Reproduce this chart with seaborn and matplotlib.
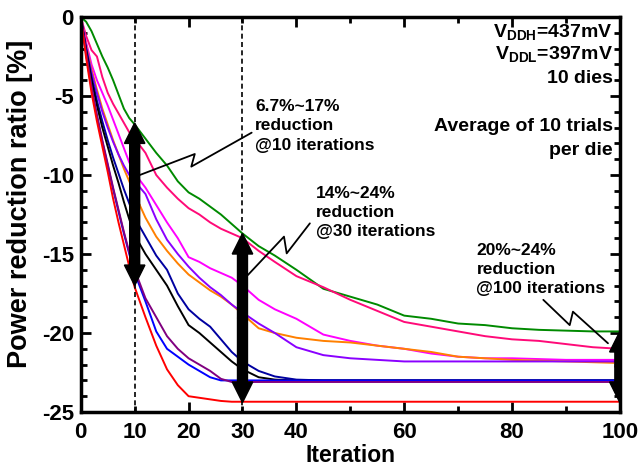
import numpy as np
import pandas as pd
import matplotlib
matplotlib.use("Agg")
import matplotlib.pyplot as plt
import seaborn as sns
from matplotlib.ticker import MultipleLocator, FixedLocator, FixedFormatter

iters = [0, 1, 2, 3, 4, 5, 6, 7, 8, 9, 10, 12, 14, 16, 18, 20, 22, 24, 26, 28, 30,
         33, 36, 40, 45, 50, 55, 60, 65, 70, 75, 80, 85, 90, 95, 100]

die_green = [0, -0.3, -0.9, -1.7, -2.5, -3.2, -4.0, -4.9, -5.8, -6.4, -6.8, -7.7, -8.6, -9.4, -10.4, -11.1,
             -11.5, -12.0, -12.5, -13.1, -13.7, -14.5, -15.1, -16.0, -17.2, -17.7, -18.2, -18.9, -19.1,
             -19.4, -19.5, -19.7, -19.8, -19.85, -19.9, -19.9]
die_pink = [0, -1.2, -2.1, -2.5, -3.8, -4.8, -5.5, -6.1, -6.7, -7.3, -7.7, -8.6, -10.0, -10.8, -11.5, -12.1,
            -12.5, -13.0, -13.4, -13.7, -14.0, -14.8, -15.5, -16.4, -17.1, -17.9, -18.6, -19.3, -19.6,
            -19.9, -20.2, -20.4, -20.5, -20.7, -20.9, -21.0]
die_magenta = [0, -1.6, -3.0, -4.0, -4.8, -5.6, -6.5, -7.4, -8.3, -9.2, -9.9, -10.8, -11.9, -13.0, -14.0,
               -15.2, -15.5, -15.9, -16.2, -16.5, -17.0, -17.9, -18.5, -19.1, -20.1, -20.5, -20.8, -21.0,
               -21.3, -21.5, -21.6, -21.6, -21.65, -21.7, -21.7, -21.7]
die_orange = [0, -1.8, -3.3, -4.6, -5.8, -6.8, -7.8, -8.7, -9.6, -10.4, -11.2, -12.7, -13.9, -14.8, -15.6,
              -16.3, -16.8, -17.3, -17.7, -18.2, -18.8, -19.7, -20.0, -20.3, -20.5, -20.6, -20.8, -21.0,
              -21.2, -21.5, -21.6, -21.7, -21.75, -21.8, -21.85, -21.9]
die_violet = [0, -1.9, -3.5, -4.8, -6.0, -7.0, -7.9, -8.7, -9.4, -10.0, -10.4, -11.2, -12.8, -14.1, -15.0,
              -15.8, -16.5, -17.1, -17.6, -18.2, -18.7, -19.4, -20.0, -20.9, -21.4, -21.6, -21.7, -21.8,
              -21.8, -21.8, -21.8, -21.8, -21.8, -21.8, -21.8, -21.8]
die_navy = [0, -2.0, -3.8, -5.3, -6.6, -7.8, -8.9, -9.9, -10.9, -11.8, -12.7, -13.9, -15.1, -16.0, -17.5,
            -18.5, -19.1, -19.6, -20.4, -21.2, -21.8, -22.4, -22.75, -22.95, -23.0, -23.0, -23.0, -23.0,
            -23.0, -23.0, -23.0, -23.0, -23.0, -23.0, -23.0, -23.0]
die_black = [0, -2.1, -4.0, -5.6, -7.0, -8.2, -9.4, -10.5, -11.7, -12.8, -13.8, -15.0, -16.0, -17.0, -18.3,
             -19.5, -20.0, -20.6, -21.2, -21.8, -22.3, -22.8, -22.95, -23.0, -23.0, -23.0, -23.0, -23.0,
             -23.0, -23.0, -23.0, -23.0, -23.0, -23.0, -23.0, -23.0]
die_blue = [0, -2.4, -4.5, -6.3, -7.9, -9.4, -10.9, -12.3, -13.7, -15.0, -16.2, -18.0, -19.9, -21.0, -21.5,
            -22.0, -22.4, -22.8, -23.0, -23.0, -23.0, -23.0, -23.0, -23.0, -23.0, -23.0, -23.0, -23.0,
            -23.0, -23.0, -23.0, -23.0, -23.0, -23.0, -23.0, -23.0]
die_purple = [0, -2.3, -4.4, -6.2, -7.8, -9.3, -10.8, -12.2, -13.6, -14.9, -16.0, -17.8, -19.0, -20.2, -21.0,
              -21.6, -22.0, -22.4, -22.9, -23.1, -23.1, -23.1, -23.1, -23.1, -23.1, -23.1, -23.1, -23.1,
              -23.1, -23.1, -23.1, -23.1, -23.1, -23.1, -23.1, -23.1]
die_red = [0, -2.6, -4.8, -6.6, -8.2, -9.8, -11.5, -13.0, -14.4, -15.8, -17.1, -19.0, -20.8, -22.3, -23.3,
           -24.0, -24.1, -24.2, -24.3, -24.35, -24.35, -24.35, -24.35, -24.35, -24.35, -24.35, -24.35,
           -24.35, -24.35, -24.35, -24.35, -24.35, -24.35, -24.35, -24.35, -24.35]

dies = {"green": die_green, "pink": die_pink, "magenta": die_magenta, "orange": die_orange,
        "violet": die_violet, "navy": die_navy, "black": die_black, "blue": die_blue,
        "purple": die_purple, "red": die_red}
palette = {"green": "#008a00", "pink": "#ff0a78", "magenta": "#ff00ff", "orange": "#ff8000",
           "violet": "#8a00ff", "navy": "#0000a0", "black": "#000000", "blue": "#0000ff",
           "purple": "#800080", "red": "#ff0000"}

# reduction ranges marked with arrows: (iteration, smallest, largest)
ranges = [(10, -6.7, -17.0), (30, -13.7, -24.4), (100, -19.9, -24.4)]
range_labels = ["6.7%~17%\nreduction\n@10 iterations",
                "14%~24%\nreduction\n@30 iterations",
                "20%~24%\nreduction\n@100 iterations"]

rows = []
for name, vals in dies.items():
    for it, v in zip(iters, vals):
        rows.append((name, it, v))
df = pd.DataFrame(rows, columns=["die", "Iteration", "ratio"])

sns.set_style("ticks")
plt.rcParams["font.family"] = ["Liberation Sans", "DejaVu Sans"]
plt.rcParams["font.weight"] = "bold"
plt.rcParams["axes.unicode_minus"] = False
plt.rcParams["mathtext.fontset"] = "custom"
plt.rcParams["mathtext.rm"] = "Liberation Sans:bold"
plt.rcParams["mathtext.bf"] = "Liberation Sans:bold"
for key in ("text.color", "axes.labelcolor", "xtick.color", "ytick.color", "axes.edgecolor"):
    plt.rcParams[key] = "black"

fig = plt.figure(figsize=(6.41, 4.70), dpi=100)
ax = fig.add_axes([0.126, 0.1234, 0.841, 0.8404])

sns.lineplot(data=df, x="Iteration", y="ratio", hue="die", palette=palette,
             linewidth=1.4, legend=False, ax=ax)

ax.set_xlim(0, 100)
ax.set_ylim(-25, 0)

# dashed guides
for x in (10, 30):
    ax.plot([x, x], [0, -25], color="k", ls="--", lw=1.2, dashes=(3, 2))

# thick double arrows
for (x, top, bot) in ranges:
    mid = (top + bot) / 2
    for end in (top, bot):
        ax.arrow(x, mid, 0, end - mid, width=1.85, head_width=3.8, head_length=1.3,
                 length_includes_head=True, color="k", zorder=5)

# zigzag leader lines
zz = [([31.7, 20.5, 21.15, 10.95], [-7.32, -9.47, -8.67, -10.0]),
      ([42.5, 38.2, 37.7, 31.0], [-13.06, -14.96, -13.9, -16.33]),
      ([85.8, 90.7, 91.3, 97.8], [-17.9, -19.5, -18.65, -20.65])]
for xs, ys in zz:
    ax.plot(xs, ys, color="k", lw=1.3, zorder=6)

txt_pos = [(32.3, -5.2), (43.6, -10.7), (73.4, -14.3)]
for (tx, ty), lab in zip(txt_pos, range_labels):
    ax.text(tx, ty, lab, ha="left", va="top", fontsize=12.5, fontweight="bold", linespacing=1.35)

info = [(-1.0, r"V$_{\mathbf{DDH}}$=437mV"), (-2.4, r"V$_{\mathbf{DDL}}$=397mV"),
        (-3.92, "10 dies"), (-6.96, "Average of 10 trials"), (-8.42, "per die")]
for ty, lab in info:
    ax.text(98.7, ty, lab, ha="right", va="center", fontsize=14, fontweight="bold")

ax.set_xlabel("Iteration", fontsize=16.5, fontweight="bold")
ax.set_ylabel("Power reduction ratio [%]", fontsize=19.5, fontweight="bold")
ax.xaxis.set_label_coords(0.5, -0.082)
ax.yaxis.set_label_coords(-0.089, 0.527)

ax.xaxis.set_major_locator(FixedLocator([0, 20, 40, 60, 80, 100]))
ax.xaxis.set_minor_locator(FixedLocator([10, 30, 50, 70, 90]))
ax.xaxis.set_minor_formatter(FixedFormatter(["10", "30", "", "", ""]))
ax.yaxis.set_major_locator(MultipleLocator(5))
ax.yaxis.set_minor_locator(MultipleLocator(1))

ax.tick_params(which="both", direction="in", top=True, right=True, width=2, labelsize=16)
ax.tick_params(which="major", length=7)
ax.tick_params(which="minor", length=4)
ax.tick_params(axis="x", which="both", pad=7)
ax.tick_params(axis="y", which="major", pad=5)
for lab in ax.get_xticklabels(which="both") + ax.get_yticklabels():
    lab.set_fontweight("bold")
for s in ax.spines.values():
    s.set_linewidth(2.5)
    s.set_color("black")

fig.savefig("out.png", dpi=100)
